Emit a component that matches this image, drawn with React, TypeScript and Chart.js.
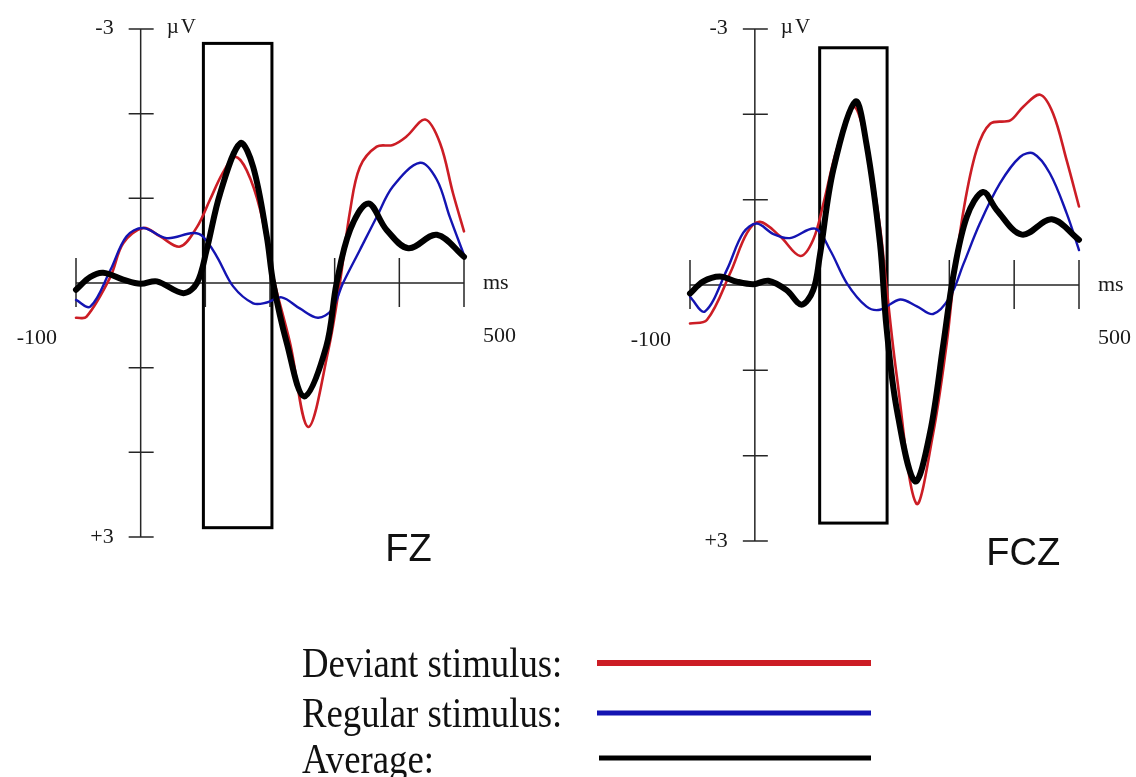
import React, { useEffect, useRef } from "react";
import { Chart, registerables } from "chart.js";

Chart.register(...registerables);

// ---- axes ----
const TIME_MIN = -100;
const TIME_MAX = 500;
const AMP_MIN = -3;
const AMP_MAX = 3;
const X_TICKS = [-100, 100, 200, 300, 400, 500];
const Y_TICKS = [-3, -2, -1, 1, 2, 3];
const Y_TICK_LABELS = ["-3", "+3"];
const X_TICK_LABELS = ["-100", "500"];
const UNIT_Y = "\u00B5V";
const UNIT_X = "ms";

// ---- series meta ----
const SERIES_LABELS = ["Deviant stimulus:", "Regular stimulus:", "Average:"];
const SERIES_COLORS = ["#cc1d25", "#1414b2", "#000000"];

// ---- FZ ----
const fzDevX = [-100, -84, -47, -27, 4, 30, 61, 87, 107, 127, 146, 164, 185, 205, 231, 259, 290, 308, 324, 339, 365, 390, 411, 440, 463, 483, 500];
const fzDevY = [0.41, 0.40, -0.07, -0.47, -0.65, -0.55, -0.43, -0.66, -0.98, -1.30, -1.49, -1.33, -0.86, -0.07, 0.71, 1.70, 0.80, 0, -0.86, -1.37, -1.61, -1.63, -1.73, -1.93, -1.65, -1.06, -0.61];
const fzRegX = [-100, -78, -47, -22, 4, 40, 81, 96, 118, 143, 174, 195, 218, 246, 274, 295, 313, 339, 365, 390, 432, 458, 478, 500];
const fzRegY = [0.20, 0.28, -0.15, -0.55, -0.65, -0.53, -0.59, -0.55, -0.31, 0.04, 0.24, 0.23, 0.17, 0.30, 0.41, 0.32, 0, -0.39, -0.78, -1.14, -1.42, -1.22, -0.78, -0.33];
const fzAvgX = [-100, -78, -58, -27, 0, 25, 66, 87, 102, 123, 154, 174, 195, 205, 226, 253, 287, 303, 324, 352, 380, 414, 458, 500];
const fzAvgY = [0.08, -0.07, -0.12, -0.04, 0.01, -0.02, 0.12, 0, -0.39, -1.06, -1.65, -1.37, -0.55, 0, 0.71, 1.34, 0.75, 0, -0.63, -0.94, -0.63, -0.41, -0.57, -0.31];
const FZ_WINDOW = [97, 203];
const FZ_WINDOW_AMP = [-2.83, 2.89];

// ---- FCZ ----
const fczDevX = [-100, -74, -38, -12, 8, 39, 70, 90, 106, 126, 152, 172, 193, 203, 219, 249, 275, 296, 306, 322, 342, 363, 394, 414, 440, 460, 481, 500];
const fczDevY = [0.45, 0.41, -0.14, -0.61, -0.74, -0.57, -0.34, -0.53, -0.96, -1.58, -2.09, -1.66, -0.68, 0.02, 1.07, 2.56, 1.74, 0.68, 0, -0.88, -1.58, -1.89, -1.93, -2.09, -2.23, -2.01, -1.46, -0.92];
const fczRegX = [-100, -77, -43, -18, 3, 28, 54, 93, 116, 142, 172, 193, 224, 250, 275, 301, 322, 347, 378, 409, 430, 455, 481, 500];
const fczRegY = [0.14, 0.31, -0.18, -0.61, -0.72, -0.60, -0.55, -0.66, -0.41, -0.02, 0.25, 0.29, 0.17, 0.25, 0.34, 0.14, -0.25, -0.72, -1.19, -1.50, -1.54, -1.31, -0.84, -0.41];
const fczAvgX = [-100, -80, -54, -28, -2, 21, 49, 72, 90, 100, 121, 155, 172, 193, 203, 219, 247, 270, 291, 306, 327, 352, 373, 412, 458, 500];
const fczAvgY = [0.10, -0.04, -0.10, -0.04, -0.01, -0.05, 0.06, 0.23, 0.06, -0.33, -1.35, -2.15, -1.66, -0.49, 0.49, 1.46, 2.30, 1.74, 0.68, -0.10, -0.80, -1.09, -0.88, -0.59, -0.77, -0.53];
const FCZ_WINDOW = [100, 204];
const FCZ_WINDOW_AMP = [-2.78, 2.79];

const W = 1136;
const H = 777;

const zip = (xs: number[], ys: number[]) => xs.map((x, i) => ({ x, y: ys[i] }));

function makeDatasets(dev: any[], reg: any[], avg: any[]) {
  const base = {
    pointRadius: 0,
    fill: false,
    clip: false as any,
    tension: 0.35,
    borderCapStyle: "round" as const,
    borderJoinStyle: "round" as const,
  };
  return [
    { ...base, label: SERIES_LABELS[0], data: dev, borderColor: SERIES_COLORS[0], borderWidth: 2.6, order: 3 },
    { ...base, label: SERIES_LABELS[1], data: reg, borderColor: SERIES_COLORS[1], borderWidth: 2.4, order: 2 },
    { ...base, label: SERIES_LABELS[2], data: avg, borderColor: SERIES_COLORS[2], borderWidth: 6, order: 1 },
  ];
}

function erpPlugin(title: string, win: number[], winAmp: number[], drawLegend: boolean) {
  return {
    id: "erp_" + title,
    beforeDatasetsDraw(chart: any) {
      const { ctx } = chart;
      const xs = chart.scales.x;
      const ys = chart.scales.y;
      const x0 = xs.getPixelForValue(0);
      const y0 = ys.getPixelForValue(0);
      ctx.save();
      ctx.strokeStyle = "#262626";
      ctx.lineWidth = 1.5;
      ctx.beginPath();
      ctx.moveTo(x0, ys.getPixelForValue(AMP_MIN));
      ctx.lineTo(x0, ys.getPixelForValue(AMP_MAX));
      ctx.moveTo(xs.getPixelForValue(TIME_MIN), y0);
      ctx.lineTo(xs.getPixelForValue(TIME_MAX), y0);
      Y_TICKS.forEach((v) => {
        const y = ys.getPixelForValue(v);
        ctx.moveTo(x0 - 12, y);
        ctx.lineTo(x0 + 13, y);
      });
      X_TICKS.forEach((v) => {
        const x = xs.getPixelForValue(v);
        ctx.moveTo(x, y0 - 25);
        ctx.lineTo(x, y0 + 24);
      });
      ctx.stroke();
      // analysis window
      const bx1 = xs.getPixelForValue(win[0]);
      const bx2 = xs.getPixelForValue(win[1]);
      const by1 = ys.getPixelForValue(winAmp[0]);
      const by2 = ys.getPixelForValue(winAmp[1]);
      ctx.strokeStyle = "#000";
      ctx.lineWidth = 3;
      ctx.strokeRect(bx1, by1, bx2 - bx1, by2 - by1);
      ctx.restore();
    },
    afterDraw(chart: any) {
      const { ctx } = chart;
      const xs = chart.scales.x;
      const ys = chart.scales.y;
      const x0 = xs.getPixelForValue(0);
      const y0 = ys.getPixelForValue(0);
      const yTop = ys.getPixelForValue(AMP_MIN);
      const yBot = ys.getPixelForValue(AMP_MAX);
      const xL = xs.getPixelForValue(TIME_MIN);
      const xR = xs.getPixelForValue(TIME_MAX);
      ctx.save();
      ctx.fillStyle = "#1a1a1a";
      ctx.font = "22px 'Liberation Serif', 'Times New Roman', serif";
      ctx.textBaseline = "middle";
      ctx.textAlign = "right";
      ctx.fillText(Y_TICK_LABELS[0], x0 - 27, yTop - 1);
      ctx.fillText(Y_TICK_LABELS[1], x0 - 27, yBot);
      ctx.fillText(X_TICK_LABELS[0], xL - 19, y0 + 55);
      ctx.textAlign = "left";
      ctx.fillText(X_TICK_LABELS[1], xR + 19, y0 + 53);
      ctx.fillText(UNIT_X, xR + 19, y0);
      ctx.font = "21px 'Liberation Serif', 'Times New Roman', serif";
      try { (ctx as any).letterSpacing = "2px"; } catch (e) {}
      ctx.fillText(UNIT_Y, x0 + 26, yTop - 2);
      try { (ctx as any).letterSpacing = "0px"; } catch (e) {}
      // electrode title
      ctx.font = "38px 'Liberation Sans', Arial, sans-serif";
      ctx.textAlign = "center";
      ctx.textBaseline = "alphabetic";
      ctx.fillStyle = "#111";
      ctx.fillText(title, xs.getPixelForValue(414), yBot + 24);

      if (drawLegend) {
        const baselines = [677, 727, 773];
        const lineYs = [663, 713, 758];
        const lineWidths = [6, 5, 5];
        const lineStarts = [597, 597, 599];
        ctx.font = "42px 'Liberation Serif', 'Times New Roman', serif";
        ctx.textAlign = "left";
        ctx.fillStyle = "#111";
        SERIES_LABELS.forEach((lab, i) => {
          ctx.save();
          ctx.translate(302, baselines[i]);
          ctx.scale(0.875, 1);
          ctx.fillText(lab, 0, 0);
          ctx.restore();
          ctx.strokeStyle = SERIES_COLORS[i];
          ctx.lineWidth = lineWidths[i];
          ctx.lineCap = "butt";
          ctx.beginPath();
          ctx.moveTo(lineStarts[i], lineYs[i]);
          ctx.lineTo(871, lineYs[i]);
          ctx.stroke();
        });
      }
      ctx.restore();
    },
  };
}

function makeConfig(datasets: any[], padding: any, plugin: any) {
  return {
    type: "line" as const,
    data: { datasets },
    options: {
      responsive: false,
      animation: false as const,
      devicePixelRatio: 1,
      events: [] as any[],
      layout: { padding },
      scales: {
        x: { type: "linear" as const, min: TIME_MIN, max: TIME_MAX, display: false },
        y: { type: "linear" as const, min: AMP_MIN, max: AMP_MAX, reverse: true, display: false },
      },
      plugins: { legend: { display: false }, tooltip: { enabled: false } },
    },
    plugins: [plugin],
  };
}

export default function App() {
  const leftRef = useRef<HTMLCanvasElement | null>(null);
  const rightRef = useRef<HTMLCanvasElement | null>(null);

  useEffect(() => {
    const left = new Chart(
      leftRef.current as HTMLCanvasElement,
      makeConfig(
        makeDatasets(zip(fzDevX, fzDevY), zip(fzRegX, fzRegY), zip(fzAvgX, fzAvgY)),
        { left: 76, right: W - 464, top: 29, bottom: H - 537 },
        erpPlugin("FZ", FZ_WINDOW, FZ_WINDOW_AMP, true)
      ) as any
    );
    const right = new Chart(
      rightRef.current as HTMLCanvasElement,
      makeConfig(
        makeDatasets(zip(fczDevX, fczDevY), zip(fczRegX, fczRegY), zip(fczAvgX, fczAvgY)),
        { left: 690, right: W - 1079, top: 29, bottom: H - 541 },
        erpPlugin("FCZ", FCZ_WINDOW, FCZ_WINDOW_AMP, false)
      ) as any
    );
    return () => {
      left.destroy();
      right.destroy();
    };
  }, []);

  const canvasStyle: React.CSSProperties = {
    position: "absolute",
    left: 0,
    top: 0,
    width: W,
    height: H,
  };

  return (
    <div style={{ position: "absolute", left: 0, top: 0, width: W, height: H, background: "#fff" }}>
      <canvas ref={leftRef} width={W} height={H} style={canvasStyle} />
      <canvas ref={rightRef} width={W} height={H} style={canvasStyle} />
    </div>
  );
}
